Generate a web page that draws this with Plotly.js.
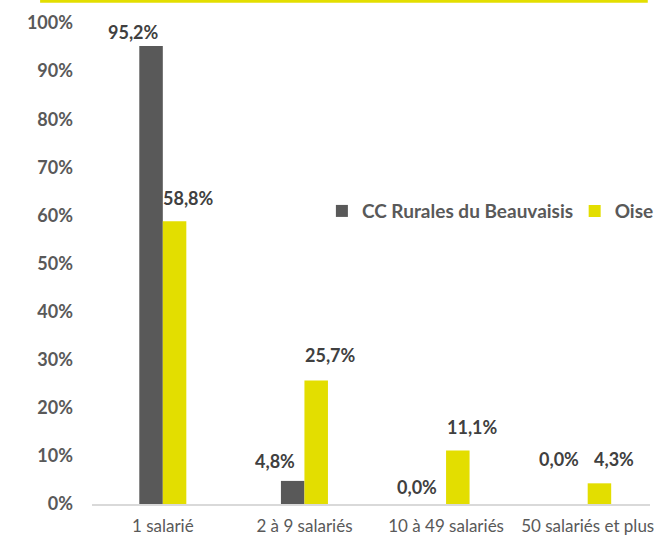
<!DOCTYPE html>
<html><head><meta charset="utf-8">
<script src="https://cdn.plot.ly/plotly-3.0.1.min.js"></script>
<style>body{margin:0;background:#fff}#chart{width:654px;height:537px}</style>
</head><body><div id="chart"></div>
<script>
const categories = ["1 salarié", "2 à 9 salariés", "10 à 49 salariés", "50 salariés et plus"];
const ccRurales = [0.952, 0.048, 0.000, 0.000];
const oise = [0.588, 0.257, 0.111, 0.043];
const seriesNames = ["CC Rurales du Beauvaisis", "Oise"];
const yTicks = [0, 0.1, 0.2, 0.3, 0.4, 0.5, 0.6, 0.7, 0.8, 0.9, 1.0];
const yTickText = ["0%", "10%", "20%", "30%", "40%", "50%", "60%", "70%", "80%", "90%", "100%"];

// label placement (style, px above bar top)
const darkLift = [14, 20, 17, 45];
const yelLift = [23, 25, 24, 24];

const DARK = "#595959", YEL = "#E3DE00";
const FONT = "Lato, 'Open Sans', sans-serif";
const fmt = v => (v * 100).toFixed(1).replace(".", ",") + "%";

const traces = [
  {type: "bar", name: seriesNames[0], x: categories, y: ccRurales, marker: {color: DARK}, hoverinfo: "none", legend: "legend"},
  {type: "bar", name: seriesNames[1], x: categories, y: oise, marker: {color: YEL}, hoverinfo: "none", legend: "legend2"}
];

const annotations = [];
categories.forEach((c, i) => {
  annotations.push({x: c, y: ccRurales[i], text: "<b>" + fmt(ccRurales[i]) + "</b>", showarrow: false,
    xanchor: "center", yanchor: "middle", xshift: -29, yshift: darkLift[i],
    font: {family: FONT, size: 18, color: "#404040"}});
  annotations.push({x: c, y: oise[i], text: "<b>" + fmt(oise[i]) + "</b>", showarrow: false,
    xanchor: "center", yanchor: "middle", xshift: 26, yshift: yelLift[i],
    font: {family: FONT, size: 18, color: "#404040"}});
});

const legendFont = {family: FONT, size: 19, color: DARK, weight: "bold"};

const layout = {
  width: 654, height: 537,
  margin: {l: 92, r: 4, t: 23, b: 33, autoexpand: false},
  paper_bgcolor: "#fff", plot_bgcolor: "#fff",
  font: {family: FONT, color: DARK},
  barmode: "group", bargap: 0.668, bargroupgap: 0,
  showlegend: true,
  legend: {orientation: "h", x: 0.412, y: 0.609, xanchor: "left", yanchor: "middle",
    font: legendFont, bgcolor: "rgba(0,0,0,0)", itemwidth: 30},
  legend2: {orientation: "h", x: 0.865, y: 0.609, xanchor: "left", yanchor: "middle",
    font: legendFont, bgcolor: "rgba(0,0,0,0)", itemwidth: 30},
  xaxis: {type: "category", range: [-0.5, 3.44], showline: true, linecolor: "#D9D9D9", linewidth: 1.5,
    ticks: "", showgrid: false, ticklabelstandoff: 6,
    tickfont: {family: FONT, size: 17, color: DARK}, automargin: false},
  yaxis: {range: [0, 1], tickvals: yTicks, ticktext: yTickText, showgrid: false, zeroline: false,
    showline: false, ticks: "", ticklabelstandoff: 18,
    tickfont: {family: FONT, size: 18, color: DARK, weight: "bold"}, automargin: false},
  annotations: annotations,
  shapes: [{type: "line", xref: "paper", yref: "paper", x0: -0.093, x1: 0.996, y0: 1.045, y1: 1.045,
    line: {color: YEL, width: 3}}]
};

Plotly.newPlot("chart", traces, layout, {displayModeBar: false, staticPlot: true});
</script></body></html>
